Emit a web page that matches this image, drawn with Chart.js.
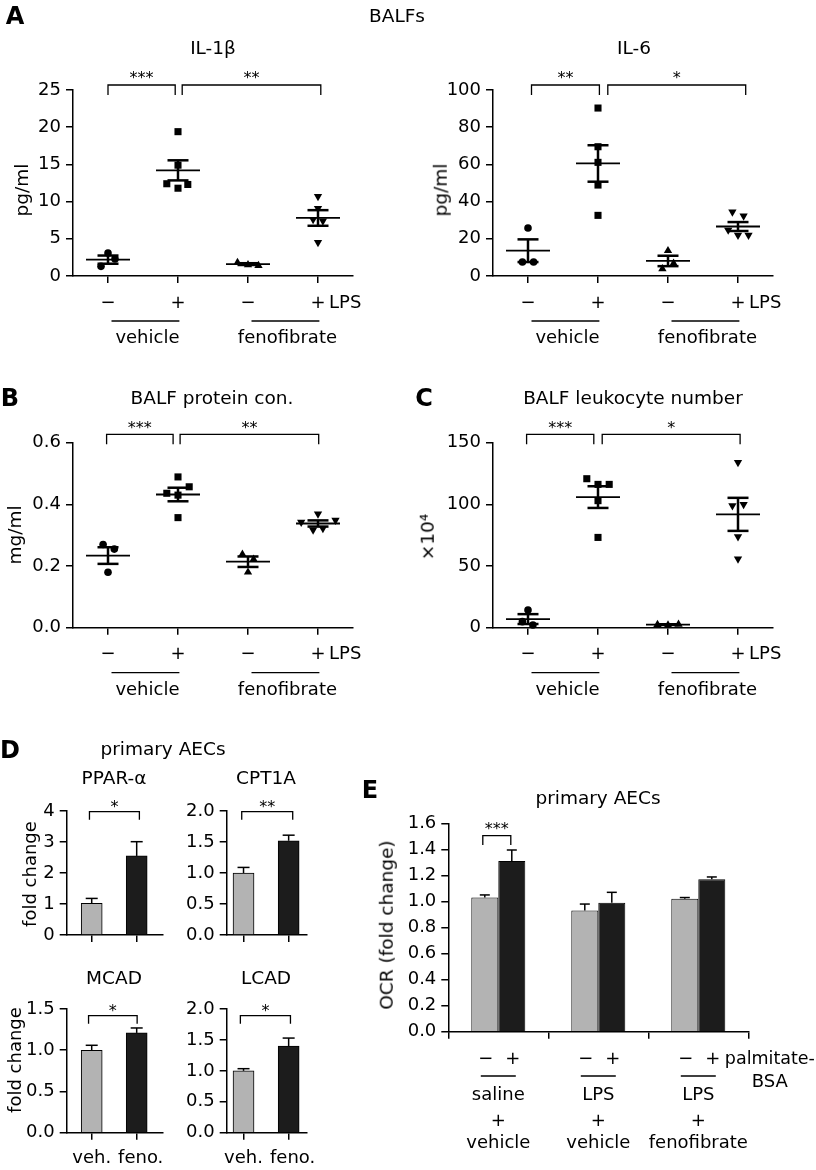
<!DOCTYPE html>
<html>
<head>
<meta charset="utf-8">
<script src="https://cdn.jsdelivr.net/npm/chart.js@4.4.1/dist/chart.umd.min.js"></script>
<style>
  html, body { margin: 0; padding: 0; background: #fff; }
  #page { position: relative; width: 816px; height: 1170px; overflow: hidden; }
  #page canvas { position: absolute; left: 0; top: 0; }
</style>
</head>
<body>
<div id="page"></div>
<script>
// ---- values ----
const lpsTicks = ['−', '+', '−', '+'];
const treatments = ['vehicle', 'fenofibrate'];

// A: IL-1beta (pg/ml), one inner array per group
const il1bPoints = [[3.1, 2.3, 1.3], [19.4, 14.9, 12.4, 12.3, 11.8], [1.8, 1.5, 1.4], [10.7, 9.1, 7.6, 7.4, 4.5]];
const il1bMean = [2.2, 14.2, 1.6, 7.8];
const il1bSem = [0.55, 1.35, 0.12, 1.05];

// A: IL-6 (pg/ml)
const il6Points = [[25.8, 7.5, 7.5], [90.3, 69.5, 61.1, 48.9, 32.6], [13.6, 6.8, 3.9], [34.4, 32.3, 24.7, 22, 22]];
const il6Mean = [13.6, 60.5, 8.1, 26.6];
const il6Sem = [6.1, 9.8, 2.8, 2.4];

// B: BALF protein (mg/ml)
const proteinPoints = [[0.27, 0.255, 0.18], [0.489, 0.457, 0.436, 0.43, 0.357], [0.238, 0.222, 0.18], [0.369, 0.349, 0.342, 0.322, 0.317]];
const proteinMean = [0.234, 0.432, 0.214, 0.338];
const proteinSem = [0.027, 0.022, 0.017, 0.01];

// C: BALF leukocytes (x10^4)
const leukoPoints = [[14.3, 4.9, 2.2], [120.8, 116.2, 116.2, 103, 73.2], [2.5, 2.2, 2.8], [134, 100, 99, 73.8, 55.7]];
const leukoMean = [7.0, 105.9, 2.5, 91.9];
const leukoSem = [4.0, 8.8, 0.3, 13.4];

// D: primary AECs, fold change
const foldLabels = ['veh.', 'feno.'];
const pparA = [1.02, 2.55], pparASem = [0.16, 0.46];
const cpt1a = [1.0, 1.52], cpt1aSem = [0.09, 0.09];
const mcad = [1.0, 1.21], mcadSem = [0.06, 0.06];
const lcad = [1.0, 1.4], lcadSem = [0.035, 0.13];

// E: OCR (fold change)
const ocrGroups = [['saline', '+', 'vehicle'], ['LPS', '+', 'vehicle'], ['LPS', '+', 'fenofibrate']];
const palmitateTicks = ['−', '+'];
const ocrMinus = [1.03, 0.93, 1.02], ocrMinusSem = [0.02, 0.05, 0.01];
const ocrPlus = [1.31, 0.99, 1.17], ocrPlusSem = [0.085, 0.08, 0.018];

// horizontal spread of the dots inside a group (category units)
const il1bJitter = [[0, 0.1, -0.1], [0, 0, -0.16, 0.14, 0], [-0.15, 0, 0.15], [0, 0, -0.07, 0.07, 0]];
const il6Jitter = [[0, -0.08, 0.08], [0, 0, 0, 0, 0], [0, 0.08, -0.08], [-0.08, 0.08, -0.14, 0, 0.15]];
const proteinJitter = [[-0.07, 0.09, 0], [0, 0.16, -0.16, 0, 0], [-0.08, 0.08, 0], [0, 0.25, -0.24, 0.07, -0.07]];
const leukoJitter = [[0, -0.08, 0.07], [-0.16, 0, 0.16, 0, 0], [-0.15, 0, 0.15], [0, 0.08, -0.08, 0, 0]];

// ---- layout / style ----
const PAGE_W = 816, PAGE_H = 1170;
const FONT = 'DejaVu Sans';
const GRAY = '#b3b3b3', BLACK = '#1c1c1c';
const YW = 50, XH = 8;
const MARKERS = [
    { style: 'circle', r: 3.8, rot: 0 },
    { style: 'rect', r: 5, rot: 0 },
    { style: 'triangle', r: 4.8, rot: 0 },
    { style: 'triangle', r: 4.8, rot: 180 }
];
const page = document.getElementById('page');

function addCanvas() {
    const c = document.createElement('canvas');
    c.width = PAGE_W; c.height = PAGE_H;
    page.appendChild(c);
    return c;
}

function htmlText(s, x, y, size, bold, rotate) {
    const d = document.createElement('div');
    d.textContent = s;
    d.style.cssText = 'position:absolute;left:' + x + 'px;top:' + y + 'px;font:' + (bold ? 'bold ' : '') + size +
        'px "' + FONT + '";line-height:1;white-space:nowrap;color:#000;transform:translate(-50%,-50%)' + (rotate ? ' rotate(-90deg)' : '');
    page.appendChild(d);
}

function line(ctx, x1, y1, x2, y2, w) {
    ctx.beginPath(); ctx.moveTo(x1, y1); ctx.lineTo(x2, y2);
    ctx.lineWidth = w; ctx.stroke();
}

function label(ctx, s, x, y, align, size) {
    ctx.font = (size || 18) + 'px "' + FONT + '"';
    ctx.textAlign = align || 'center';
    ctx.textBaseline = 'middle';
    ctx.fillText(s, x, y);
}

function bracket(ctx, x1, x2, top, drop, stars, starGap) {
    ctx.beginPath();
    ctx.moveTo(x1, top + drop); ctx.lineTo(x1, top); ctx.lineTo(x2, top); ctx.lineTo(x2, top + drop);
    ctx.lineWidth = 1.3; ctx.stroke();
    ctx.font = '16px "' + FONT + '"';
    ctx.textAlign = 'center'; ctx.textBaseline = 'alphabetic';
    ctx.fillText(stars, (x1 + x2) / 2, top - starGap + 8.5);
}

function baseOptions(rect, xScale, yMax, yStep, dec) {
    return {
        responsive: false, animation: false, events: [],
        layout: { padding: { left: rect.l - YW, top: rect.t, right: PAGE_W - rect.r, bottom: PAGE_H - rect.b - XH } },
        plugins: { legend: { display: false }, tooltip: { enabled: false } },
        scales: {
            x: Object.assign({
                afterFit: (s) => { s.height = XH; },
                border: { color: '#000', width: 1.5 },
                ticks: { display: false }
            }, xScale),
            y: {
                min: 0, max: yMax,
                afterFit: (s) => { s.width = YW; },
                border: { color: '#000', width: 1.5 },
                grid: { drawOnChartArea: false, color: '#000', lineWidth: 1.5, tickLength: 7 },
                ticks: {
                    stepSize: yStep, color: '#000', padding: 5,
                    font: { family: FONT, size: 18 },
                    callback: (v) => v.toFixed(dec)
                }
            }
        }
    };
}

function linearX(min, max, ticks) {
    return {
        type: 'linear', min: min, max: max, offset: false,
        afterBuildTicks: (s) => { s.ticks = ticks.map((v) => ({ value: v })); },
        grid: { drawOnChartArea: false, offset: false, color: '#000', lineWidth: 1.5, tickLength: 7 }
    };
}

// ---- dot plots (A, B, C) ----
function dotPlot(rect, cfg) {
    const datasets = cfg.points.map((vals, g) => ({
        data: vals.map((v, k) => ({ x: g + 1 + cfg.jitter[g][k], y: v })),
        pointStyle: MARKERS[g].style,
        pointRadius: MARKERS[g].r,
        pointRotation: MARKERS[g].rot,
        backgroundColor: '#000', borderColor: '#000', borderWidth: 0,
        clip: false
    }));
    const deco = {
        id: 'dotDeco',
        afterDatasetsDraw(chart) {
            const ctx = chart.ctx, a = chart.chartArea, x = chart.scales.x, y = chart.scales.y;
            ctx.save();
            ctx.strokeStyle = '#000'; ctx.fillStyle = '#000';
            cfg.mean.forEach((m, g) => {
                const cx = x.getPixelForValue(g + 1);
                const ym = y.getPixelForValue(m);
                const yh = y.getPixelForValue(m + cfg.sem[g]);
                const yl = y.getPixelForValue(m - cfg.sem[g]);
                line(ctx, cx - 22, ym, cx + 22, ym, 1.8);
                line(ctx, cx, yh, cx, yl, 2.5);
                line(ctx, cx - 10.5, yh, cx + 10.5, yh, 2.5);
                line(ctx, cx - 10.5, yl, cx + 10.5, yl, 2.5);
            });
            cfg.brackets.forEach((b) => {
                bracket(ctx, x.getPixelForValue(b[0]), x.getPixelForValue(b[1]), a.top + cfg.bracketDy, 10, b[2], cfg.starGap);
            });
            lpsTicks.forEach((s, i) => label(ctx, s, x.getPixelForValue(i + 1), a.bottom + 27));
            label(ctx, 'LPS', x.getPixelForValue(4) + 11, a.bottom + 27, 'left');
            treatments.forEach((t, k) => {
                const x1 = x.getPixelForValue(2 * k + 1.05), x2 = x.getPixelForValue(2 * k + 2.02);
                line(ctx, x1, a.bottom + 45, x2, a.bottom + 45, 1.3);
                label(ctx, t, (x1 + x2) / 2 + 2, a.bottom + 62.5);
            });
            ctx.restore();
        }
    };
    return new Chart(addCanvas(), {
        type: 'scatter',
        data: { datasets: datasets },
        options: baseOptions(rect, linearX(0.5, 4.5, [1, 2, 3, 4]), cfg.yMax, cfg.yStep, cfg.dec),
        plugins: [deco]
    });
}

dotPlot({ l: 73, t: 90, r: 353, b: 276 }, {
    points: il1bPoints, jitter: il1bJitter, mean: il1bMean, sem: il1bSem, yMax: 25, yStep: 5, dec: 0,
    brackets: [[1.0, 1.96, '***'], [2.06, 4.04, '**']], bracketDy: -5, starGap: 11
});
dotPlot({ l: 493, t: 90, r: 773, b: 276 }, {
    points: il6Points, jitter: il6Jitter, mean: il6Mean, sem: il6Sem, yMax: 100, yStep: 20, dec: 0,
    brackets: [[1.05, 2.02, '**'], [2.14, 4.11, '*']], bracketDy: -5, starGap: 11
});
dotPlot({ l: 73, t: 442.7, r: 353, b: 627.7 }, {
    points: proteinPoints, jitter: proteinJitter, mean: proteinMean, sem: proteinSem, yMax: 0.6, yStep: 0.2, dec: 1,
    brackets: [[0.98, 1.93, '***'], [2.03, 4.01, '**']], bracketDy: -8.4, starGap: 9.5
});
dotPlot({ l: 493, t: 442.7, r: 773, b: 627.7 }, {
    points: leukoPoints, jitter: leukoJitter, mean: leukoMean, sem: leukoSem, yMax: 150, yStep: 50, dec: 0,
    brackets: [[0.98, 1.94, '***'], [2.06, 4.03, '*']], bracketDy: -8.4, starGap: 9.5
});

// ---- D: small bar charts ----
function foldChart(rect, xMin, xMax, vals, sem, yMax, yStep, dec, stars, br, bracketDy, showLabels) {
    const deco = {
        id: 'foldDeco',
        afterDatasetsDraw(chart) {
            const ctx = chart.ctx, a = chart.chartArea, x = chart.scales.x, y = chart.scales.y;
            ctx.save();
            ctx.strokeStyle = '#000'; ctx.fillStyle = '#000';
            chart.getDatasetMeta(0).data.forEach((bar, i) => {
                const top = y.getPixelForValue(vals[i] + sem[i]);
                line(ctx, bar.x, bar.y, bar.x, top, 1.5);
                line(ctx, bar.x - 6, top, bar.x + 6, top, 1.5);
            });
            bracket(ctx, x.getPixelForValue(br[0]), x.getPixelForValue(br[1]), a.top + bracketDy, 8, stars, 8);
            if (showLabels) {
                foldLabels.forEach((s, i) => label(ctx, s, x.getPixelForValue(i + 1) + i * 4, a.bottom + 25.5));
            }
            ctx.restore();
        }
    };
    return new Chart(addCanvas(), {
        type: 'bar',
        data: {
            datasets: [{
                data: vals.map((v, i) => ({ x: i + 1, y: v })),
                backgroundColor: [GRAY, BLACK],
                borderColor: '#000', borderWidth: 1,
                barThickness: 21
            }]
        },
        options: baseOptions(rect, linearX(xMin, xMax, [1, 2]), yMax, yStep, dec),
        plugins: [deco]
    });
}

foldChart({ l: 66.7, t: 811, r: 163, b: 935 }, 0.444, 2.585, pparA, pparASem, 4, 1, 0, '*', [0.95, 2.06], 0.7, false);
foldChart({ l: 226.7, t: 811, r: 306.7, b: 935 }, 0.627, 2.4, cpt1a, cpt1aSem, 2, 0.5, 1, '**', [0.96, 2.09], 0.7, false);
foldChart({ l: 66.7, t: 1009, r: 163, b: 1132.7 }, 0.444, 2.585, mcad, mcadSem, 1.5, 0.5, 1, '*', [0.93, 2.01], 6.7, true);
foldChart({ l: 226.7, t: 1009, r: 306.7, b: 1132.7 }, 0.627, 2.4, lcad, lcadSem, 2, 0.5, 1, '*', [0.93, 2.04], 6.7, true);

// ---- E: grouped bars ----
const ocrDeco = {
    id: 'ocrDeco',
    afterDatasetsDraw(chart) {
        const ctx = chart.ctx, a = chart.chartArea, x = chart.scales.x, y = chart.scales.y;
        const sems = [ocrMinusSem, ocrPlusSem];
        const vals = [ocrMinus, ocrPlus];
        ctx.save();
        ctx.strokeStyle = '#000'; ctx.fillStyle = '#000';
        [0, 1].forEach((di) => {
            chart.getDatasetMeta(di).data.forEach((bar, i) => {
                const top = y.getPixelForValue(vals[di][i] + sems[di][i]);
                line(ctx, bar.x, bar.y, bar.x, top, 1.5);
                line(ctx, bar.x - 5, top, bar.x + 5, top, 1.5);
            });
        });
        const b0 = chart.getDatasetMeta(0).data, b1 = chart.getDatasetMeta(1).data;
        bracket(ctx, b0[0].x - 2, b1[0].x - 1, a.top + 12.4, 9.3, '***', 10);
        ocrGroups.forEach((grp, i) => {
            label(ctx, palmitateTicks[0], b0[i].x + 1, a.bottom + 27.3);
            label(ctx, palmitateTicks[1], b1[i].x + 1, a.bottom + 27.3);
            line(ctx, b0[i].x - 4, a.bottom + 44.3, b1[i].x + 4, a.bottom + 44.3, 1.3);
            const cx = x.getPixelForValue(i);
            label(ctx, grp[0], cx, a.bottom + 63.3);
            label(ctx, grp[1], cx, a.bottom + 90);
            label(ctx, grp[2], cx, a.bottom + 111.6);
        });
        const px = b1[2].x + 13;
        label(ctx, 'palmitate-', px, a.bottom + 27.3, 'left', 17.5);
        const w = ctx.measureText('palmitate-').width;
        label(ctx, 'BSA', px + w / 2, a.bottom + 51);
        ctx.restore();
    }
};

new Chart(addCanvas(), {
    type: 'bar',
    data: {
        labels: ocrGroups,
        datasets: [
            { data: ocrMinus, backgroundColor: GRAY, borderColor: '#000', borderWidth: 1 },
            { data: ocrPlus, backgroundColor: BLACK, borderColor: '#000', borderWidth: 1 }
        ]
    },
    options: (function () {
        const o = baseOptions({ l: 448.3, t: 823.3, r: 748.3, b: 1031.7 }, {
            type: 'category', offset: true,
            grid: { drawOnChartArea: false, offset: true, color: '#000', lineWidth: 1.5, tickLength: 7 }
        }, 1.6, 0.2, 1);
        o.datasets = { bar: { categoryPercentage: 0.54, barPercentage: 1.0 } };
        return o;
    })(),
    plugins: [ocrDeco]
});

// ---- titles and panel letters ----
htmlText('A', 15, 16, 24, true);
htmlText('BALFs', 397, 16, 18.5);
htmlText('IL-1β', 213, 48, 18.5);
htmlText('IL-6', 634, 48, 18.5);
htmlText('pg/ml', 22, 190, 18.5, false, true);
htmlText('pg/ml', 441, 190, 18.5, false, true);
htmlText('B', 10, 398, 24, true);
htmlText('BALF protein con.', 212, 398, 18.5);
htmlText('mg/ml', 15, 535, 18.5, false, true);
htmlText('C', 424, 398, 24, true);
htmlText('BALF leukocyte number', 633, 398, 18.5);
htmlText('×10⁴', 428, 537, 18.5, false, true);
htmlText('D', 10, 750, 24, true);
htmlText('primary AECs', 163, 749, 18.5);
htmlText('PPAR-α', 114, 778, 18.5);
htmlText('CPT1A', 266, 778, 18.5);
htmlText('MCAD', 114, 978, 18.5);
htmlText('LCAD', 266, 978, 18.5);
htmlText('fold change', 30, 874, 18, false, true);
htmlText('fold change', 15, 1060, 18, false, true);
htmlText('E', 370, 790, 24, true);
htmlText('primary AECs', 598, 798, 18.5);
htmlText('OCR (fold change)', 387, 925, 18.5, false, true);
</script>
</body>
</html>
